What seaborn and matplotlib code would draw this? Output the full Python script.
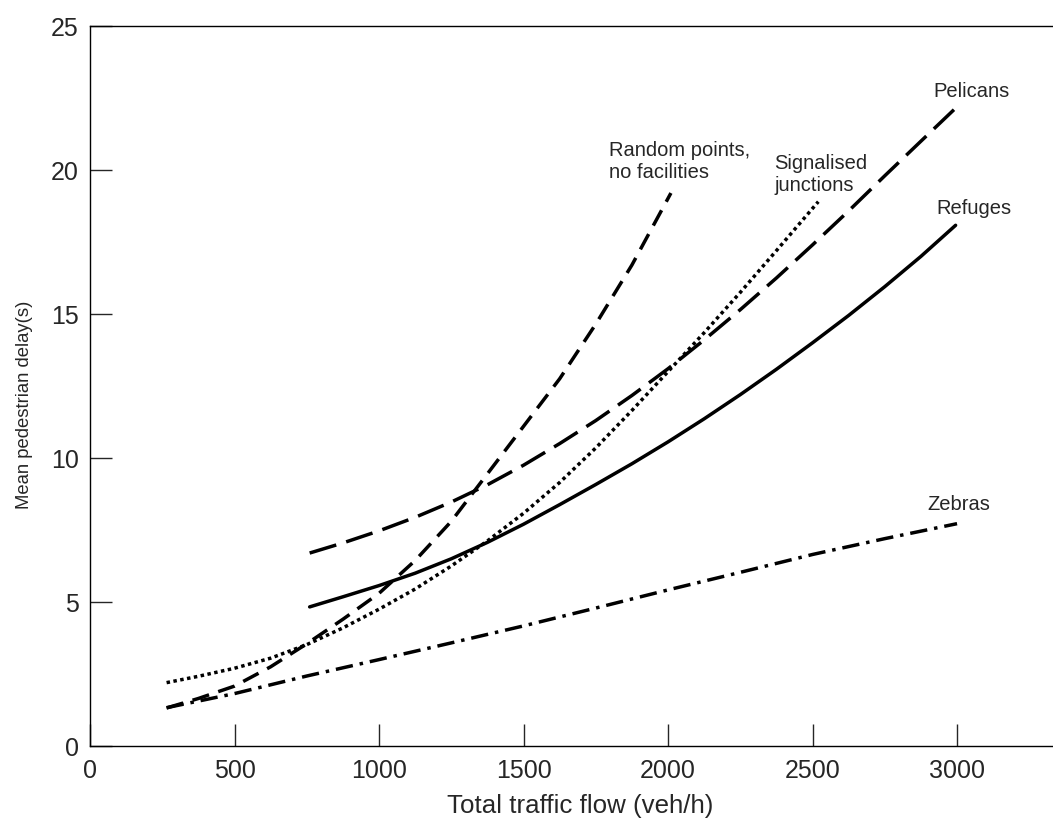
import pandas as pd
import matplotlib
matplotlib.use("Agg")
import matplotlib.pyplot as plt
import seaborn as sns

# values (x = total traffic flow veh/h, y = mean delay s)
random_x = [265, 375, 500, 625, 750, 875, 1000, 1125, 1250, 1375, 1500, 1625, 1750, 1875, 2010]
random_y = [1.32, 1.65, 2.08, 2.75, 3.55, 4.4, 5.3, 6.44, 7.8, 9.45, 11.1, 12.75, 14.65, 16.7, 19.2]

signal_x = [265, 375, 500, 625, 750, 875, 1000, 1125, 1250, 1375, 1500, 1625, 1750, 1875,
            2000, 2125, 2250, 2375, 2520]
signal_y = [2.2, 2.42, 2.7, 3.05, 3.52, 4.1, 4.75, 5.45, 6.25, 7.12, 8.08, 9.15, 10.35, 11.65,
            13.0, 14.35, 15.75, 17.2, 18.9]

pelican_x = [760, 875, 1000, 1125, 1250, 1375, 1500, 1625, 1750, 1875, 2000, 2125, 2250,
             2375, 2500, 2625, 2750, 2875, 2990]
pelican_y = [6.7, 7.05, 7.47, 7.94, 8.47, 9.07, 9.75, 10.5, 11.3, 12.17, 13.1, 14.1, 15.15,
             16.25, 17.4, 18.58, 19.8, 21.0, 22.1]

refuge_x = [760, 875, 1000, 1125, 1250, 1375, 1500, 1625, 1750, 1875, 2000, 2125, 2250,
            2375, 2500, 2625, 2750, 2875, 2995]
refuge_y = [4.83, 5.18, 5.57, 6.0, 6.5, 7.07, 7.7, 8.38, 9.08, 9.8, 10.56, 11.36, 12.2,
            13.08, 14.0, 14.95, 15.95, 17.0, 18.08]

zebra_x = [265, 500, 750, 1000, 1250, 1500, 1750, 2000, 2250, 2500, 2750, 3000]
zebra_y = [1.33, 1.82, 2.43, 3.0, 3.58, 4.17, 4.79, 5.42, 6.03, 6.65, 7.2, 7.72]

labels = ["Random points,\nno facilities", "Signalised\njunctions",
          "Pelicans", "Refuges", "Zebras"]

sns.set_style("ticks")
plt.rcParams['font.family'] = ['Liberation Sans', 'DejaVu Sans']

frames = []
for name, xs, ys in [("random", random_x, random_y),
                     ("signal", signal_x, signal_y),
                     ("pelican", pelican_x, pelican_y),
                     ("refuge", refuge_x, refuge_y),
                     ("zebra", zebra_x, zebra_y)]:
    frames.append(pd.DataFrame({"flow": xs, "delay": ys, "type": name}))
df = pd.concat(frames, ignore_index=True)

dashes = {
    "random": (5, 2.8),
    "signal": (1, 1),
    "pelican": (8, 3),
    "refuge": "",
    "zebra": (5, 2, 1, 2),
}

fig = plt.figure(figsize=(10.53, 8.18), dpi=100)
ax = fig.add_axes([90 / 1053, 72 / 818, 963 / 1053, 720 / 818])

sns.lineplot(data=df, x="flow", y="delay", style="type", dashes=dashes,
             color="black", linewidth=2.5, sort=False, estimator=None,
             legend=False, ax=ax)
for line in ax.get_lines():
    line.set_dash_capstyle("butt")
    line.set_solid_joinstyle("round")

ax.set_xlim(0, 3332)
ax.set_ylim(0, 25)
ax.set_xticks([0, 500, 1000, 1500, 2000, 2500, 3000])
ax.set_yticks([0, 5, 10, 15, 20, 25])
ax.tick_params(direction="in", length=16, width=1, labelsize=18)
ax.tick_params(axis="x", pad=9)
ax.tick_params(axis="y", pad=8)
ax.spines["right"].set_visible(False)
for s in ["left", "bottom", "top"]:
    ax.spines[s].set_linewidth(1)
    ax.spines[s].set_color("black")

ax.set_xlabel("Total traffic flow (veh/h)", fontsize=18.6)
ax.set_ylabel("Mean pedestrian delay(s)", fontsize=13.3)
ax.xaxis.set_label_coords(0.509, -0.066)
ax.yaxis.set_label_coords(-0.059, 0.474)

# curve labels
ax.text(1796, 20.3, labels[0], fontsize=14.5, va="center", ha="left", linespacing=1.2)
ax.text(2367, 19.86, labels[1], fontsize=14.5, va="center", ha="left", linespacing=1.2)
ax.text(2917, 22.74, labels[2], fontsize=14.5, va="center", ha="left")
ax.text(2927, 18.68, labels[3], fontsize=14.5, va="center", ha="left")
ax.text(2896, 8.37, labels[4], fontsize=14.5, va="center", ha="left")

fig.savefig("out.png", dpi=100)
